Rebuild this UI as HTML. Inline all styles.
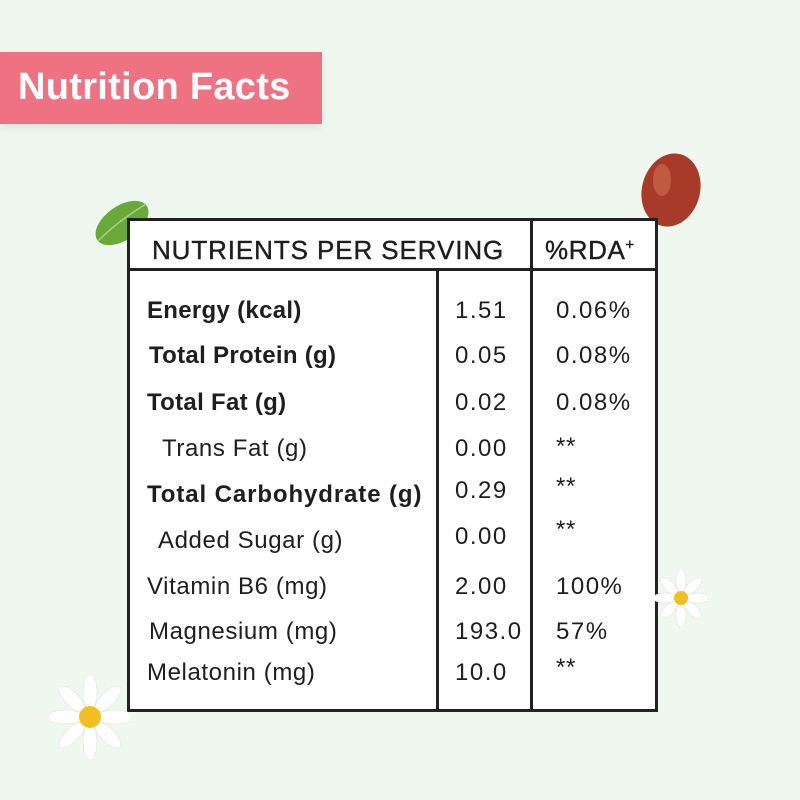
<!DOCTYPE html>
<html><head><meta charset="utf-8"><style>
body{margin:0;width:800px;height:800px;background:#eef8ee;position:relative;overflow:hidden;font-family:"Liberation Sans",sans-serif;color:#1e1e1e}
.ban{position:absolute;left:0;top:52px;width:322px;height:72px;background:#ee7281;box-shadow:0 4px 8px rgba(0,0,0,0.08)}
.ban span{position:absolute;left:18px;top:14px;font-size:38px;font-weight:bold;color:#fff;letter-spacing:0.3px}
.box{position:absolute;left:127px;top:218px;width:525px;height:488px;border:3px solid #222;background:#fff}
.l{position:absolute;background:#222}
.t{position:absolute;font-size:24px;white-space:nowrap;letter-spacing:0.6px}
.b{font-weight:bold;letter-spacing:0.3px}
.n{letter-spacing:1.5px}
</style></head><body>
<div class="ban"><span>Nutrition Facts</span></div>
<svg style="position:absolute;left:88px;top:196px" width="70" height="56"><ellipse cx="34" cy="27" rx="30" ry="17" transform="rotate(-35 34 27)" fill="#6aa83a"/><path d="M10 45 Q30 25 58 8" stroke="#a8d080" stroke-width="1.5" fill="none"/></svg>
<svg style="position:absolute;left:636px;top:150px" width="70" height="80"><ellipse cx="35" cy="40" rx="29" ry="37" transform="rotate(15 35 40)" fill="#a83a2a"/><ellipse cx="26" cy="30" rx="9" ry="16" fill="#d07050" opacity="0.6"/></svg>
<div class="box"></div>
<div class="l" style="left:127px;top:268px;width:531px;height:3px"></div>
<div class="l" style="left:530px;top:218px;width:3px;height:493px"></div>
<div class="l" style="left:436px;top:268px;width:3px;height:443px"></div>
<div class="t" style="left:152px;top:235px;font-size:26px;letter-spacing:0.9px;-webkit-text-stroke:0.4px #1e1e1e">NUTRIENTS PER SERVING</div>
<div class="t" style="left:545px;top:235px;font-size:26px;-webkit-text-stroke:0.4px #1e1e1e">%RDA<sup style="font-size:15px">+</sup></div>
<div class="t b" style="left:147px;top:297px">Energy (kcal)</div>
<div class="t b" style="left:149px;top:342px">Total Protein (g)</div>
<div class="t b" style="left:147px;top:389px">Total Fat (g)</div>
<div class="t" style="left:162px;top:435px">Trans Fat (g)</div>
<div class="t b" style="left:147px;top:481px;letter-spacing:0.9px">Total Carbohydrate (g)</div>
<div class="t" style="left:158px;top:527px">Added Sugar (g)</div>
<div class="t" style="left:147px;top:573px">Vitamin B6 (mg)</div>
<div class="t" style="left:149px;top:618px">Magnesium (mg)</div>
<div class="t" style="left:147px;top:659px">Melatonin (mg)</div>
<div class="t n" style="left:455px;top:297px">1.51</div>
<div class="t n" style="left:455px;top:342px">0.05</div>
<div class="t n" style="left:455px;top:389px">0.02</div>
<div class="t n" style="left:455px;top:435px">0.00</div>
<div class="t n" style="left:455px;top:477px">0.29</div>
<div class="t n" style="left:455px;top:523px">0.00</div>
<div class="t n" style="left:455px;top:573px">2.00</div>
<div class="t n" style="left:455px;top:618px">193.0</div>
<div class="t n" style="left:455px;top:659px">10.0</div>
<div class="t n" style="left:556px;top:297px">0.06%</div>
<div class="t n" style="left:556px;top:342px">0.08%</div>
<div class="t n" style="left:556px;top:389px">0.08%</div>
<div class="t" style="left:556px;top:433px">**</div>
<div class="t" style="left:556px;top:473px">**</div>
<div class="t" style="left:556px;top:516px">**</div>
<div class="t n" style="left:556px;top:573px">100%</div>
<div class="t n" style="left:556px;top:618px">57%</div>
<div class="t" style="left:556px;top:654px">**</div>
<svg style="position:absolute;left:50px;top:672px" width="80" height="90"><g fill="#fff" stroke="#ddd" stroke-width="0.5"><ellipse cx="40" cy="20" rx="7" ry="18"/><ellipse cx="40" cy="70" rx="7" ry="18"/><ellipse cx="15" cy="45" rx="18" ry="7"/><ellipse cx="65" cy="45" rx="18" ry="7"/><ellipse cx="22" cy="27" rx="7" ry="17" transform="rotate(-45 22 27)"/><ellipse cx="58" cy="27" rx="7" ry="17" transform="rotate(45 58 27)"/><ellipse cx="22" cy="63" rx="7" ry="17" transform="rotate(45 22 63)"/><ellipse cx="58" cy="63" rx="7" ry="17" transform="rotate(-45 58 63)"/></g><circle cx="40" cy="45" r="11" fill="#f0c020"/></svg>
<svg style="position:absolute;left:655px;top:568px" width="52" height="60"><g fill="#fff" stroke="#ddd" stroke-width="0.5"><ellipse cx="26" cy="13" rx="5" ry="12"/><ellipse cx="26" cy="47" rx="5" ry="12"/><ellipse cx="10" cy="30" rx="12" ry="5"/><ellipse cx="42" cy="30" rx="12" ry="5"/><ellipse cx="14" cy="18" rx="5" ry="11" transform="rotate(-45 14 18)"/><ellipse cx="38" cy="18" rx="5" ry="11" transform="rotate(45 38 18)"/><ellipse cx="14" cy="42" rx="5" ry="11" transform="rotate(45 14 42)"/><ellipse cx="38" cy="42" rx="5" ry="11" transform="rotate(-45 38 42)"/></g><circle cx="26" cy="30" r="7" fill="#f0c020"/></svg>
</body></html>
